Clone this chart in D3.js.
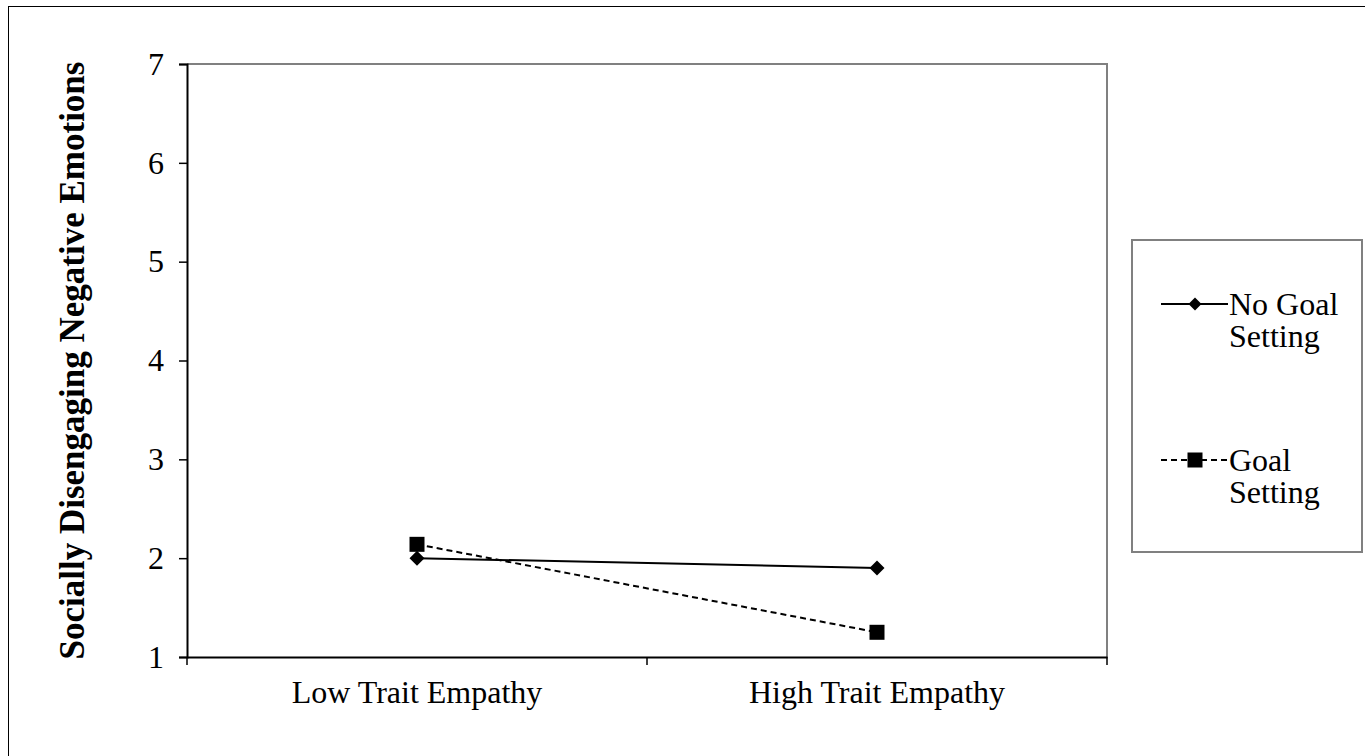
<!DOCTYPE html>
<html>
<head>
<meta charset="utf-8">
<script src="https://cdn.jsdelivr.net/npm/d3@7"></script>
<style>
  html, body { margin: 0; padding: 0; background: #fff; }
  svg { display: block; font-family: "Liberation Serif", "Times New Roman", serif; }
</style>
</head>
<body>
<div id="chart"></div>
<script>
const W = 1365, H = 756;
const margin = { top: 64, left: 187, right: 260, bottom: 99 };

const categories = ["Low Trait Empathy", "High Trait Empathy"];
const yTicks = [1, 2, 3, 4, 5, 6, 7];
const series = [
  { name: ["No Goal", "Setting"], values: [2.0, 1.9], dash: null, marker: "diamond" },
  { name: ["Goal", "Setting"], values: [2.14, 1.25], dash: "6,4", marker: "square" },
];

const svg = d3.select("#chart").append("svg").attr("width", W).attr("height", H);

// outer frame
svg.append("rect").attr("x", 8.5).attr("y", 6.5).attr("width", W).attr("height", H)
  .attr("fill", "none").attr("stroke", "#000").attr("stroke-width", 1);

const x0 = margin.left, x1 = W - margin.right + 2, y0 = H - margin.bottom, y1 = margin.top;
const x = d3.scaleBand().domain(categories).range([x0, x1]);
const y = d3.scaleLinear().domain([1, 7]).range([y0, y1]);

// plot frame (top/right gray)
svg.append("path")
  .attr("d", `M${x0},${y1}H${x1}V${y0}`)
  .attr("fill", "none").attr("stroke", "#808080").attr("stroke-width", 2);

// y axis
const yAxis = svg.append("g").attr("transform", `translate(${x0},0)`)
  .call(d3.axisLeft(y).tickValues(yTicks).tickSize(8).tickPadding(15).tickFormat(d3.format("d")));
yAxis.attr("font-family", null).attr("font-size", null);
yAxis.select(".domain").attr("stroke", "#000").attr("stroke-width", 2);
yAxis.selectAll(".tick line").attr("stroke", "#000").attr("stroke-width", 1.5);
yAxis.selectAll("text").attr("font-size", 32).attr("fill", "#000");

// x axis
const xAxis = svg.append("g").attr("transform", `translate(0,${y0})`)
  .call(d3.axisBottom(x).tickSize(0).tickPadding(23));
xAxis.attr("font-family", null).attr("font-size", null);
xAxis.select(".domain").attr("stroke", "#000").attr("stroke-width", 2);
xAxis.selectAll("text").attr("font-size", 32).attr("fill", "#000");
// boundary ticks
const bounds = [x0, x0 + x.bandwidth(), x1];
svg.append("g").selectAll("line").data(bounds).join("line")
  .attr("x1", d => d).attr("x2", d => d).attr("y1", y0).attr("y2", y0 + 8)
  .attr("stroke", "#000").attr("stroke-width", 1.5);

// y label
svg.append("text")
  .attr("transform", `translate(84,${(y0 + y1) / 2}) rotate(-90)`)
  .attr("text-anchor", "middle")
  .attr("font-size", 35).attr("font-weight", "bold")
  .text("Socially Disengaging Negative Emotions");

const cx = c => x(c) + x.bandwidth() / 2;

function marker(g, type, px, py, s) {
  if (type === "diamond") {
    g.append("path").attr("d", `M${px},${py - s}L${px + s},${py}L${px},${py + s}L${px - s},${py}Z`).attr("fill", "#000");
  } else {
    g.append("rect").attr("x", px - s).attr("y", py - s).attr("width", 2 * s).attr("height", 2 * s).attr("fill", "#000");
  }
}

const line = d3.line().x((d, i) => cx(categories[i])).y(d => y(d));
series.forEach(s => {
  svg.append("path").datum(s.values).attr("d", line)
    .attr("fill", "none").attr("stroke", "#000").attr("stroke-width", 2)
    .attr("stroke-dasharray", s.dash);
  const g = svg.append("g");
  s.values.forEach((v, i) => marker(g, s.marker, cx(categories[i]), y(v), 7.5));
});

// legend
const lg = svg.append("g");
lg.append("rect").attr("x", 1132).attr("y", 240).attr("width", 230).attr("height", 312)
  .attr("fill", "#fff").attr("stroke", "#808080").attr("stroke-width", 2);
const legY = [304, 460];
series.forEach((s, i) => {
  const ly = legY[i];
  lg.append("line").attr("x1", 1161).attr("x2", 1228).attr("y1", ly).attr("y2", ly)
    .attr("stroke", "#000").attr("stroke-width", 2).attr("stroke-dasharray", s.dash);
  marker(lg, s.marker, 1195, ly, s.marker === "diamond" ? 6.5 : 7.5);
  s.name.forEach((t, j) => {
    lg.append("text").attr("x", 1229).attr("y", ly + 11 + j * 32)
      .attr("font-size", 32).text(t);
  });
});
</script>
</body>
</html>
